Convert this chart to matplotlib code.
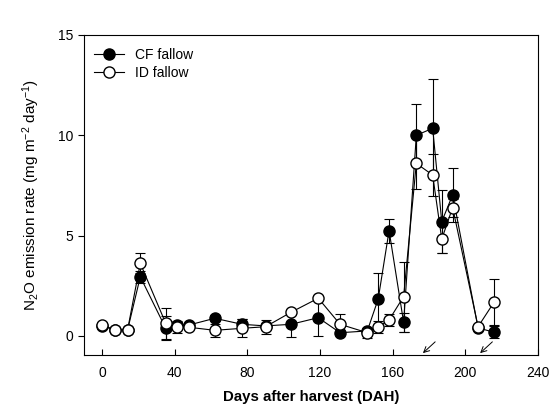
import matplotlib
matplotlib.use("Agg")
import matplotlib.pyplot as plt
from matplotlib.lines import Line2D

plt.rcParams['font.family'] = ['Liberation Sans', 'DejaVu Sans']
plt.rcParams['mathtext.fontset'] = 'custom'
plt.rcParams['mathtext.rm'] = 'Liberation Sans'
plt.rcParams['mathtext.it'] = 'Liberation Sans'

days = [0, 7, 14, 21, 35, 41, 48, 62, 77, 90, 104, 119, 131, 146, 152, 158, 166, 173, 182, 187, 193, 207, 216]
cf_mean = [0.5, 0.3, 0.3, 2.95, 0.38, 0.55, 0.55, 0.88, 0.58, 0.5, 0.58, 0.91, 0.16, 0.25, 1.84, 5.25, 0.68, 10.0, 10.35, 5.7, 7.03, 0.4, 0.18]
cf_err = [0.1, 0.1, 0.1, 0.3, 0.6, 0.15, 0.1, 0.15, 0.25, 0.1, 0.65, 0.9, 0.1, 0.1, 1.3, 0.6, 0.47, 1.55, 2.45, 1.55, 1.36, 0.1, 0.3]
id_mean = [0.55, 0.3, 0.3, 3.62, 0.63, 0.43, 0.43, 0.28, 0.38, 0.46, 1.18, 1.88, 0.58, 0.16, 0.46, 0.8, 1.96, 8.6, 8.02, 4.83, 6.4, 0.46, 1.71]
id_err = [0.1, 0.1, 0.1, 0.5, 0.78, 0.3, 0.1, 0.33, 0.45, 0.35, 0.1, 0.1, 0.5, 0.26, 0.3, 0.3, 1.74, 1.3, 1.03, 0.71, 0.45, 0.1, 1.15]
arrow_days = [175.5, 207]

xticks = [0, 40, 80, 120, 160, 200, 240]
yticks = [0, 5, 10, 15]

fig = plt.figure(figsize=(5.52, 4.12), dpi=100)
ax = fig.add_axes([84/552, 1 - 355/412, (538 - 84)/552, (355 - 35)/412])

ax.errorbar(days, cf_mean, yerr=cf_err, fmt='-o', color='black', mfc='black', mec='black',
            ms=8, lw=0.8, elinewidth=0.8, capsize=3.6, capthick=0.8, label='CF fallow', zorder=2)
ax.errorbar(days, id_mean, yerr=id_err, fmt='-o', color='black', mfc='white', mec='black',
            ms=8, lw=0.8, elinewidth=0.8, capsize=3.6, capthick=0.8, label='ID fallow', zorder=3)

ymin = -0.95
for d in arrow_days:
    ax.annotate('', xy=(d, ymin), xytext=(d + 9, -0.2),
                arrowprops=dict(arrowstyle='->', color='black', lw=0.7, mutation_scale=10),
                annotation_clip=False)

ax.set_xlim(-10, 240)
ax.set_ylim(ymin, 15)
ax.set_xticks(xticks)
ax.set_yticks(yticks)
ax.tick_params(axis='x', direction='in', length=4, width=0.8, labelsize=10, pad=8)
ax.tick_params(axis='y', direction='out', length=4, width=0.8, labelsize=10)
for s in ax.spines.values():
    s.set_linewidth(0.8)

ax.set_xlabel('Days after harvest (DAH)', fontsize=10.8, fontweight='bold', labelpad=7)
ax.set_ylabel('N$_2$O emission rate (mg m$^{-2}$ day$^{-1}$)', fontsize=11, labelpad=12)

handles = [Line2D([], [], color='black', marker='o', mfc='black', mec='black', ms=8, lw=0.8),
           Line2D([], [], color='black', marker='o', mfc='white', mec='black', ms=8, lw=0.8)]
ax.legend(handles, ['CF fallow', 'ID fallow'], loc='upper left', frameon=False, fontsize=10,
          handlelength=2.2, handletextpad=0.8, labelspacing=0.3, borderaxespad=0.3,
          bbox_to_anchor=(0.0, 0.99))

fig.savefig('out.png', dpi=100)
